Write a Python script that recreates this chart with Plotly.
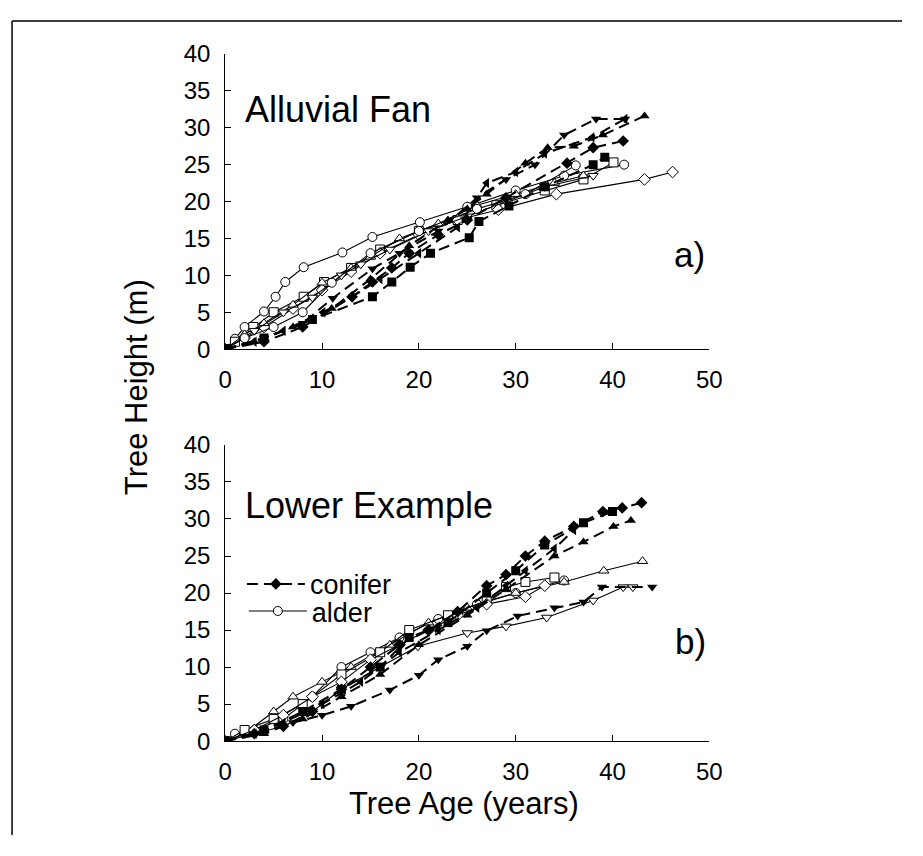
"""Tree height vs age growth curves for conifer and alder, two sites."""

import plotly.graph_objects as go

# ---- panel a) Alluvial Fan : conifers (filled markers, dashed) ----
a_con_tdown_x = [0, 4, 8, 11.1, 15.2, 18, 22, 26, 29, 32, 35, 38.3, 41.3]
a_con_tdown_y = [0, 1.5, 3.5, 6.9, 10.9, 13, 16, 20.5, 23, 25, 29, 31.2, 31.2]
a_con_tup_x = [0, 3, 7, 11, 15, 19, 23, 25, 27, 31, 33.3, 36, 39, 43.3]
a_con_tup_y = [0, 1, 3, 5.5, 9.5, 14, 17.5, 19, 21, 25.2, 27.3, 27.5, 29, 31.6]
a_con_diam_x = [0, 4, 8, 13.1, 15.2, 17.2, 19, 22, 25, 29, 35.3, 38, 41.1]
a_con_diam_y = [0, 1, 3, 7.1, 9.1, 11, 13, 15.5, 17.5, 20.5, 25.2, 27.3, 28.2]
a_con_sq_x = [0, 4, 9, 15.2, 17.2, 19.1, 21.2, 25.2, 26.2, 29.3, 33, 38, 39.2]
a_con_sq_y = [0, 1.5, 4, 7.1, 9.1, 11.1, 13, 15.1, 17.3, 19.4, 22, 25, 26]
a_con_tleft_x = [0, 3, 6, 10.1, 13, 16, 20, 24, 27, 30, 33, 37.9, 41.3]
a_con_tleft_y = [0, 1, 2.5, 5, 7, 9.5, 13, 16.5, 22.5, 24, 26.5, 28.7, 31.2]

# ---- panel a) Alluvial Fan : alder (open markers, solid) ----
a_ald_circ_x = [0, 1, 2, 4, 5.2, 6.2, 8.1, 12.1, 15.2, 20.1, 25, 30, 35, 41.2]
a_ald_circ_y = [0, 1.4, 3, 5.1, 7.1, 9.1, 11.1, 13.1, 15.2, 17.2, 19.3, 21.5, 23.5, 25]
a_ald_sq_x = [0, 1, 2.9, 5, 8.1, 10.2, 13, 16, 20, 24, 28, 33, 37, 40.1]
a_ald_sq_y = [0, 1, 3, 5, 7.1, 9.1, 11, 13.5, 16, 17.5, 19.5, 21.5, 23, 25.3]
a_ald_diam_x = [0, 2, 4, 7, 10, 13, 16, 20, 24, 28.2, 34.2, 43.3, 46.2]
a_ald_diam_y = [0, 1.5, 3, 5.5, 8, 10.5, 13, 15.5, 17.5, 18.9, 21, 23, 24]
a_ald_tup_x = [0, 2, 4, 7, 10, 13, 15, 18, 22, 26, 30, 34, 37]
a_ald_tup_y = [0, 2, 3.5, 6, 9, 11, 12.5, 15, 17, 19.5, 21, 22.5, 23.5]
a_ald_tdown_x = [0, 3, 6, 9, 12, 14, 17, 21, 25, 29, 33, 38]
a_ald_tdown_y = [0, 2.5, 5, 7, 10, 11.5, 13.5, 16, 18, 20, 22, 23.5]
a_ald_circ2_x = [0, 2, 5, 8, 11, 15, 20, 26, 31, 36.2]
a_ald_circ2_y = [0, 1.5, 3, 5, 9, 13, 16, 19, 21, 24.9]

# ---- panel b) Lower Example : conifers ----
b_con_diam_x = [0, 3, 6, 9, 12, 15, 18, 21, 24, 27, 29, 31, 33, 36, 39, 41, 43]
b_con_diam_y = [0, 1, 2, 4, 7, 10, 13, 15, 17.5, 21, 22.5, 25, 27, 29, 31, 31.5, 32.2]
b_con_sq_x = [0, 4, 8, 12, 16, 19, 23, 27, 30, 33, 37, 40]
b_con_sq_y = [0, 1.5, 4, 7, 10, 14, 16, 20, 23, 26.5, 29.5, 31]
b_con_tup_x = [0, 4, 8, 12, 16, 20, 25, 29, 34, 37, 40.1, 41.9]
b_con_tup_y = [0, 1, 3, 6, 9, 13, 17, 20.5, 25, 26.9, 29, 29.8]
b_con_tdown_x = [0, 3, 7, 10, 13, 17, 20, 22, 25, 27, 30.2, 34, 37, 38.9, 44.1]
b_con_tdown_y = [0, 1, 2.5, 3.5, 4.7, 6.9, 8.9, 11, 12.8, 14.9, 16.9, 18, 18.8, 20.8, 20.8]
b_con_tleft_x = [0, 3, 6, 10, 14, 18, 22, 26, 29, 31, 34, 36]
b_con_tleft_y = [0, 1, 2.5, 5, 8, 12, 15, 18, 21, 23, 26, 28.5]

# ---- panel b) Lower Example : alder ----
b_ald_tup_x = [0, 2, 5, 7, 10, 13, 17, 21, 25, 30, 35, 39.1, 43.1]
b_ald_tup_y = [0, 1, 4, 6, 8, 10, 13, 16, 18, 20, 21.5, 23, 24.3]
b_ald_sq_x = [0, 2, 5, 8, 12, 16, 19, 23, 27, 29, 31, 34]
b_ald_sq_y = [0, 1.5, 3, 5, 9, 12, 15, 17, 19, 20.8, 21.5, 22.1]
b_ald_circ_x = [0, 1, 3, 6, 9, 12, 15, 18, 22, 26, 30, 35]
b_ald_circ_y = [0, 1, 1.5, 3, 6, 10, 12, 14, 16.5, 18.5, 20, 21.7]
b_ald_tdown_x = [0, 3, 6, 9, 12, 16, 19.9, 25, 29, 33.2, 38, 41.1, 42.1]
b_ald_tdown_y = [0, 1, 2, 4, 7, 10, 12.8, 14.6, 15.5, 16.7, 19, 20.8, 20.8]
b_ald_diam_x = [0, 3, 6, 9, 12, 15, 18, 21, 24, 27, 31, 33]
b_ald_diam_y = [0, 1.5, 3.5, 6, 8, 11, 13, 15, 17, 18.5, 19.5, 21]

FONT = "Liberation Sans, Arial, sans-serif"

conifer_a = [
    (a_con_tdown_x, a_con_tdown_y, "triangle-down"),
    (a_con_tup_x, a_con_tup_y, "triangle-up"),
    (a_con_diam_x, a_con_diam_y, "diamond"),
    (a_con_sq_x, a_con_sq_y, "square"),
    (a_con_tleft_x, a_con_tleft_y, "triangle-left"),
]
alder_a = [
    (a_ald_circ_x, a_ald_circ_y, "circle"),
    (a_ald_sq_x, a_ald_sq_y, "square"),
    (a_ald_diam_x, a_ald_diam_y, "diamond"),
    (a_ald_tup_x, a_ald_tup_y, "triangle-up"),
    (a_ald_tdown_x, a_ald_tdown_y, "triangle-down"),
    (a_ald_circ2_x, a_ald_circ2_y, "circle"),
]
conifer_b = [
    (b_con_diam_x, b_con_diam_y, "diamond"),
    (b_con_sq_x, b_con_sq_y, "square"),
    (b_con_tup_x, b_con_tup_y, "triangle-up"),
    (b_con_tdown_x, b_con_tdown_y, "triangle-down"),
    (b_con_tleft_x, b_con_tleft_y, "triangle-left"),
]
alder_b = [
    (b_ald_circ_x, b_ald_circ_y, "circle"),
    (b_ald_tup_x, b_ald_tup_y, "triangle-up"),
    (b_ald_sq_x, b_ald_sq_y, "square"),
    (b_ald_tdown_x, b_ald_tdown_y, "triangle-down"),
    (b_ald_diam_x, b_ald_diam_y, "diamond"),
]


def conifer_trace(x, y, sym, xa, ya, legend=False):
    return go.Scatter(
        x=x, y=y, mode="lines+markers", xaxis=xa, yaxis=ya,
        name="conifer", legend="legend", showlegend=legend,
        line=dict(color="black", width=2, dash="11px,6px"),
        marker=dict(symbol=sym, size=9, color="black"),
    )


def alder_trace(x, y, sym, xa, ya, legend=False):
    return go.Scatter(
        x=x, y=y, mode="lines+markers", xaxis=xa, yaxis=ya,
        name="alder", legend="legend2", showlegend=legend,
        line=dict(color="black", width=1.1),
        marker=dict(symbol=sym, size=9, color="white", line=dict(color="black", width=1)),
    )


fig = go.Figure()
for x, y, s in alder_a:
    fig.add_trace(alder_trace(x, y, s, "x", "y"))
for x, y, s in conifer_a:
    fig.add_trace(conifer_trace(x, y, s, "x", "y"))
for i, (x, y, s) in enumerate(alder_b):
    fig.add_trace(alder_trace(x, y, s, "x2", "y2", legend=(i == 0)))
for i, (x, y, s) in enumerate(conifer_b):
    fig.add_trace(conifer_trace(x, y, s, "x2", "y2", legend=(i == 0)))

# page body has an 8px margin, so the figure is shrunk to fit the window
OFF = 8
W, H = 923 - 2 * OFF, 856 - 2 * OFF


def px(x):
    return (x - OFF) / W


def py(y):
    return 1 - (y - OFF) / H


axis_common = dict(
    showline=True, linecolor="black", linewidth=1.2,
    ticks="inside", ticklen=6, tickcolor="black", tickwidth=1.2,
    showgrid=False, zeroline=False,
    tickfont=dict(family=FONT, size=24, color="black"),
    ticklabelstandoff=9,
)
x_dom = [px(223), px(718)]
legend_common = dict(
    xanchor="left", yanchor="middle", bgcolor="rgba(0,0,0,0)",
    itemwidth=58, font=dict(family=FONT, size=27, color="black"),
)
fig.update_layout(
    width=W, height=H,
    margin=dict(l=0, r=0, t=0, b=0),
    paper_bgcolor="white", plot_bgcolor="white",
    font=dict(family=FONT, color="black"),
    xaxis=dict(domain=x_dom, range=[0, 50], tickvals=[0, 10, 20, 30, 40, 50], anchor="y", **axis_common),
    yaxis=dict(domain=[py(346), py(41)], range=[0, 40], tickvals=list(range(0, 41, 5)),
               anchor="x", **axis_common),
    xaxis2=dict(domain=x_dom, range=[0, 50], tickvals=[0, 10, 20, 30, 40, 50], anchor="y2", **axis_common),
    yaxis2=dict(domain=[py(751), py(445)], range=[0, 40], tickvals=list(range(0, 41, 5)),
                anchor="x2", **axis_common),
    legend=dict(x=px(240), y=py(589), **legend_common),
    legend2=dict(x=px(242), y=py(617), **legend_common),
    showlegend=True,
)


def label(text, x, y, size, angle=0, anchor="center"):
    fig.add_annotation(text=text, x=px(x), y=py(y), xref="paper", yref="paper",
                       showarrow=False, textangle=angle, xanchor=anchor, yanchor="middle",
                       font=dict(family=FONT, size=size, color="black"))


label("Alluvial Fan", 241, 98, 36, anchor="left")
label("Lower Example", 241, 508, 36, anchor="left")
label("a)", 698, 248, 35)
label("b)", 699, 648, 35)
label("Tree Height (m)", 133, 385, 31, angle=-90)
label("Tree Age (years)", 467, 815, 31)

# outer frame (left and top edges visible in the original)
fig.add_shape(type="line", xref="paper", yref="paper", x0=px(5), x1=1, y0=py(7), y1=py(7),
              line=dict(color="black", width=1.5))
fig.add_shape(type="line", xref="paper", yref="paper", x0=px(5), x1=px(5), y0=0, y1=py(7),
              line=dict(color="black", width=1.5))

fig.write_html("out.html")
